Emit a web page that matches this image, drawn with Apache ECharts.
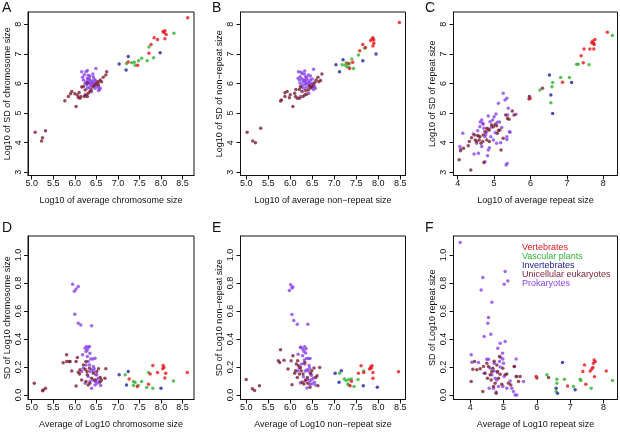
<!DOCTYPE html>
<html><head><meta charset="utf-8">
<script src="https://cdn.jsdelivr.net/npm/echarts@6/dist/echarts.min.js"></script>
<style>html,body{margin:0;padding:0;background:#fff}#c{width:620px;height:432px}</style>
</head><body><div id="c"></div>
<script>
const groups = ["Vertebrates","Vascular plants","Invertebrates","Unicellular eukaryotes","Prokaryotes"];
const groupColors = ["#e8141c","#33b233","#22229a","#7a1f32","#8a44ea"];

const xTicksHalf = [5.0,5.5,6.0,6.5,7.0,7.5,8.0,8.5];
const xTicksInt = [4,5,6,7,8];
const yTicksLog = [3,4,5,6,7,8];
const yTicksSD = [0.0,0.2,0.4,0.6,0.8,1.0];

// Panel A: log10 avg chromosome size vs log10 SD chromosome size
const A_vert = [[8.62,8.22],[8.05,7.76],[8.09,7.78],[8.07,7.72],[8.12,7.66],[8.09,7.51],[7.92,7.49],[7.84,7.55],[7.77,7.32],[7.72,7.02],[7.24,6.73],[7.46,6.62]];
const A_plant = [[8.30,7.70],[7.72,7.23],[7.48,6.77],[7.55,6.85],[7.38,6.72],[7.40,6.62],[7.20,6.68],[7.32,6.70],[7.68,6.77],[7.83,6.87]];
const A_invert = [[7.03,6.66],[7.24,6.91],[7.19,6.46],[7.98,7.04]];
const A_uni = [[5.08,4.35],[5.25,4.17],[5.23,4.06],[5.32,4.40],[5.77,5.42],[5.85,5.56],[5.90,5.65],[5.93,5.73],[6.03,5.22],[6.06,5.61],[6.08,5.53],[6.12,5.50],[6.16,5.88],[6.20,5.90],[6.24,5.78],[6.26,5.61],[6.29,5.56],[6.31,5.67],[6.35,5.73],[6.43,5.90],[6.47,5.95],[6.51,6.01],[6.55,6.06],[6.59,6.12],[6.62,6.06],[6.66,6.21],[6.74,6.40],[6.72,6.29],[6.29,6.01],[6.14,5.56],[6.22,5.56],[6.00,5.65],[6.10,5.70],[6.38,5.80],[6.55,5.95]];
const A_prok = [[6.29,6.44],[6.18,6.21],[6.20,6.12],[6.26,6.06],[6.29,6.17],[6.31,6.03],[6.35,6.12],[6.37,6.01],[6.42,6.06],[6.45,6.14],[6.49,6.51],[6.51,5.92],[6.55,5.87],[6.57,5.80],[6.47,5.84],[6.39,5.92],[6.34,5.87],[6.29,5.84],[6.24,5.62],[6.35,6.25],[6.42,6.32],[6.31,6.28],[6.26,6.40],[6.16,6.40],[6.47,6.01],[6.51,6.06],[6.39,5.72],[6.55,5.76],[6.59,5.84],[6.22,6.30],[6.33,6.18],[6.40,6.00],[6.44,5.96],[6.28,5.95],[6.36,5.98],[6.48,6.10],[6.38,6.08],[6.31,6.10],[6.24,6.00],[6.43,6.22]];

// Panel B: log10 avg non-repeat size vs log10 SD non-repeat size
const B_vert = [[8.48,8.06],[7.88,7.55],[7.86,7.50],[7.90,7.47],[7.83,7.45],[7.90,7.36],[7.88,7.27],[7.65,7.32],[7.71,7.22],[7.58,7.11],[7.42,6.72],[7.31,6.68],[7.35,6.51]];
const B_plant = [[7.69,7.19],[7.55,6.96],[7.40,6.83],[7.44,6.51],[7.29,6.57],[7.35,6.68],[7.18,6.63],[7.27,6.70],[7.33,6.55],[7.25,6.62]];
const B_invert = [[7.04,6.63],[7.20,6.80],[7.12,6.40],[7.65,6.77],[7.95,7.00]];
const B_uni = [[5.02,4.35],[5.15,4.06],[5.21,4.00],[5.33,4.49],[5.78,5.41],[5.80,5.44],[5.88,5.69],[5.93,5.73],[5.88,5.56],[5.98,5.52],[6.06,5.22],[6.10,5.67],[6.12,5.56],[6.16,5.50],[6.21,5.80],[6.23,5.89],[6.27,5.73],[6.29,5.56],[6.33,5.61],[6.37,5.64],[6.41,5.78],[6.44,5.92],[6.50,5.89],[6.53,5.97],[6.56,6.04],[6.59,6.12],[6.65,6.06],[6.69,6.10],[6.72,6.32],[6.63,6.21],[6.35,5.76],[6.21,5.50],[6.13,5.80],[6.00,5.62],[6.46,5.85]];
const B_prok = [[6.19,6.40],[6.25,6.38],[6.33,6.42],[6.32,6.32],[6.23,6.23],[6.27,6.15],[6.31,6.12],[6.35,6.06],[6.38,6.14],[6.42,6.06],[6.46,6.12],[6.50,6.15],[6.53,6.48],[6.44,5.95],[6.48,5.87],[6.53,5.80],[6.57,5.84],[6.38,5.87],[6.33,5.95],[6.27,5.95],[6.21,6.12],[6.35,6.23],[6.41,6.29],[6.31,5.84],[6.42,5.67],[6.23,5.56],[6.18,6.18],[6.46,6.25],[6.50,6.01],[6.27,6.34],[6.36,6.00],[6.40,5.98],[6.29,6.05],[6.45,6.02],[6.37,6.20],[6.22,6.02],[6.33,6.10],[6.48,5.94],[6.55,5.90],[6.26,5.88]];

// Panel C: log10 avg repeat size vs log10 SD repeat size
const C_vert = [[8.11,7.73],[7.77,7.49],[7.71,7.44],[7.68,7.38],[7.73,7.36],[7.75,7.32],[7.63,7.17],[7.74,7.17],[7.47,7.17],[7.39,6.94],[7.45,6.70],[6.88,6.04],[5.99,5.50]];
const C_plant = [[8.25,7.62],[7.27,6.65],[7.31,6.65],[7.61,6.63],[7.07,6.20],[6.83,6.20],[6.61,6.03],[6.59,5.89],[6.26,5.78],[6.56,5.35]];
const C_invert = [[6.52,6.29],[7.13,6.03],[6.56,5.61],[6.61,4.99],[5.97,5.56]];
const C_uni = [[6.33,5.84],[5.96,5.48],[4.04,3.42],[4.36,3.08],[4.08,3.73],[4.16,3.81],[4.29,3.90],[4.32,4.04],[4.38,4.17],[4.48,4.09],[4.52,4.04],[4.55,4.24],[4.59,4.09],[4.61,4.20],[4.64,3.98],[4.70,4.26],[4.72,3.33],[4.75,4.37],[4.80,4.49],[4.84,4.46],[4.87,4.43],[4.93,4.60],[4.98,4.54],[5.03,4.62],[5.07,4.57],[5.12,4.41],[5.16,4.43],[5.19,3.75],[5.25,4.15],[5.32,4.94],[5.37,4.82],[5.41,4.79],[5.50,5.07],[5.55,4.94],[4.80,4.09],[4.69,4.04],[4.46,4.26],[5.09,4.32],[4.87,4.04]];
const C_prok = [[4.14,4.32],[4.06,3.87],[4.08,3.79],[4.57,3.64],[4.75,3.36],[4.82,3.56],[4.87,3.83],[4.43,4.29],[4.52,3.98],[4.66,4.77],[4.69,4.66],[4.61,4.54],[4.72,4.49],[4.75,4.20],[4.80,4.37],[4.84,4.90],[4.89,4.71],[4.91,4.20],[4.96,4.77],[5.00,4.88],[5.03,4.34],[5.05,4.97],[5.09,4.69],[5.12,5.33],[5.21,4.51],[5.25,5.67],[5.30,5.44],[5.35,5.50],[5.39,5.16],[5.37,4.94],[5.42,4.37],[5.35,4.20],[5.35,4.11],[5.33,3.25],[5.36,3.30],[5.44,4.35],[5.60,4.96],[4.45,3.62],[4.84,3.75],[4.66,3.87],[4.98,4.09],[5.07,3.98],[5.18,4.00],[4.58,4.22],[4.62,4.70],[4.70,4.62],[4.93,4.52],[5.15,4.70],[4.77,4.28],[4.55,4.40]];

// Panel D: avg of log10 chromosome size vs SD of log10 chromosome size
const D_vert = [[8.61,0.16],[8.05,0.21],[8.07,0.195],[8.04,0.186],[8.11,0.155],[8.09,0.12],[7.92,0.16],[7.81,0.21],[7.75,0.15],[7.71,0.076],[7.26,0.114],[7.45,0.06]];
const D_plant = [[8.29,0.10],[7.71,0.16],[7.36,0.095],[7.40,0.088],[7.55,0.095],[7.36,0.067],[7.17,0.143],[7.47,0.067],[7.67,0.052],[7.81,0.048]];
const D_invert = [[7.03,0.143],[7.24,0.167],[7.20,0.071],[8.00,0.048]];
const D_uni = [[5.06,0.083],[5.25,0.029],[5.32,0.048],[5.27,0.035],[5.73,0.23],[5.81,0.286],[5.81,0.238],[5.87,0.238],[5.93,0.171],[6.03,0.064],[6.06,0.267],[6.08,0.162],[6.12,0.179],[6.11,0.15],[6.16,0.107],[6.20,0.214],[6.24,0.183],[6.28,0.167],[6.29,0.143],[6.26,0.095],[6.31,0.071],[6.35,0.083],[6.39,0.119],[6.47,0.107],[6.51,0.167],[6.55,0.186],[6.59,0.124],[6.62,0.107],[6.70,0.119],[6.72,0.186],[6.59,0.095],[6.26,0.238],[6.03,0.238],[5.89,0.238],[6.34,0.19],[6.43,0.155]];
const D_prok = [[5.95,0.79],[5.99,0.74],[6.03,0.757],[6.08,0.774],[6.00,0.576],[6.08,0.512],[6.14,0.50],[6.39,0.493],[6.24,0.333],[6.26,0.31],[6.29,0.32],[6.31,0.338],[6.34,0.345],[6.35,0.298],[6.29,0.274],[6.31,0.238],[6.37,0.257],[6.42,0.257],[6.34,0.214],[6.43,0.202],[6.47,0.262],[6.26,0.214],[6.20,0.19],[6.16,0.167],[6.35,0.167],[6.39,0.179],[6.45,0.186],[6.51,0.143],[6.55,0.119],[6.52,0.083],[6.57,0.088],[6.60,0.067],[6.47,0.095],[6.42,0.107],[6.31,0.131],[6.39,0.048],[6.24,0.083],[6.35,0.095],[6.49,0.143],[6.27,0.345],[6.18,0.286],[6.43,0.167],[6.51,0.107],[6.47,0.071]];

// Panel E: avg of log10 non-repeat size vs SD of log10 non-repeat size
const E_vert = [[8.46,0.165],[7.83,0.20],[7.84,0.19],[7.80,0.184],[7.86,0.208],[7.88,0.16],[7.88,0.118],[7.61,0.208],[7.67,0.16],[7.55,0.154],[7.39,0.097],[7.36,0.066]];
const E_plant = [[7.67,0.17],[7.54,0.109],[7.23,0.113],[7.27,0.102],[7.33,0.109],[7.31,0.078],[7.39,0.113],[7.33,0.071],[7.45,0.059],[7.12,0.154]];
const E_invert = [[7.02,0.154],[7.16,0.173],[7.11,0.09],[7.66,0.066],[7.98,0.054]];
const E_uni = [[5.00,0.109],[5.14,0.043],[5.19,0.031],[5.30,0.066],[5.78,0.322],[5.73,0.243],[5.76,0.232],[5.86,0.248],[5.95,0.184],[6.04,0.073],[6.06,0.279],[6.10,0.154],[6.14,0.22],[6.12,0.173],[6.16,0.125],[6.19,0.208],[6.23,0.196],[6.25,0.173],[6.29,0.149],[6.27,0.09],[6.31,0.078],[6.35,0.106],[6.39,0.125],[6.46,0.154],[6.49,0.173],[6.54,0.192],[6.58,0.125],[6.61,0.137],[6.67,0.196],[6.40,0.083],[6.33,0.232],[6.17,0.243],[6.02,0.243],[6.45,0.054],[6.21,0.149],[6.63,0.066]];
const E_prok = [[6.01,0.787],[5.98,0.745],[6.04,0.764],[6.06,0.771],[6.04,0.574],[6.08,0.532],[6.16,0.504],[6.40,0.504],[6.23,0.338],[6.29,0.326],[6.33,0.343],[6.36,0.33],[6.31,0.31],[6.35,0.30],[6.28,0.28],[6.32,0.25],[6.37,0.26],[6.42,0.26],[6.33,0.22],[6.43,0.21],[6.45,0.26],[6.26,0.22],[6.21,0.19],[6.17,0.17],[6.34,0.17],[6.38,0.18],[6.44,0.19],[6.48,0.14],[6.53,0.12],[6.50,0.08],[6.55,0.09],[6.57,0.07],[6.45,0.10],[6.40,0.11],[6.30,0.13],[6.38,0.05],[6.23,0.085],[6.34,0.10],[6.47,0.15],[6.25,0.34],[6.18,0.29],[6.41,0.17],[6.49,0.11],[6.45,0.075]];

// Panel F: avg of log10 repeat size vs SD of log10 repeat size
const F_vert = [[8.08,0.17],[7.75,0.238],[7.72,0.25],[7.70,0.226],[7.68,0.195],[7.73,0.13],[7.43,0.214],[7.38,0.167],[7.60,0.171],[7.65,0.185],[7.47,0.076],[6.92,0.064],[5.98,0.131]];
const F_plant = [[8.27,0.102],[7.32,0.102],[7.30,0.112],[7.63,0.048],[7.10,0.06],[6.83,0.112],[6.60,0.112],[6.60,0.083],[6.58,0.024],[6.30,0.143]];
const F_invert = [[6.77,0.231],[6.58,0.048],[6.62,0.012],[7.15,0.036]];
const F_uni = [[4.03,0.095],[4.08,0.183],[4.13,0.238],[4.20,0.179],[4.30,0.186],[4.38,0.024],[4.45,0.155],[4.52,0.119],[4.55,0.202],[4.60,0.143],[4.63,0.107],[4.65,0.167],[4.68,0.19],[4.70,0.06],[4.75,0.083],[4.78,0.012],[4.80,0.214],[4.82,0.167],[4.85,0.119],[4.90,0.148],[4.95,0.076],[4.98,0.19],[5.05,0.143],[5.15,0.083],[5.22,0.071],[5.32,0.202],[5.38,0.131],[5.50,0.131],[5.45,0.095],[4.40,0.202],[4.50,0.226],[4.88,0.274],[5.10,0.15],[4.72,0.24],[6.00,0.12],[6.35,0.125]];
const F_prok = [[3.70,1.088],[4.38,0.838],[4.33,0.75],[4.65,0.662],[4.55,0.552],[4.53,0.512],[4.62,0.433],[4.42,0.417],[4.83,0.333],[4.90,0.369],[5.05,0.381],[5.02,0.79],[5.05,0.881],[5.13,0.814],[4.97,0.298],[4.03,0.286],[4.05,0.233],[4.50,0.255],[4.55,0.255],[4.72,0.226],[4.88,0.238],[4.92,0.267],[4.98,0.257],[5.00,0.226],[5.38,0.257],[5.33,0.202],[4.65,0.143],[4.75,0.119],[4.80,0.107],[4.57,0.048],[4.70,0.048],[4.85,0.06],[4.98,0.06],[5.10,0.048],[5.25,0.048],[5.30,0.024],[5.35,0.0],[5.40,0.0],[5.40,0.131],[5.60,0.095],[4.72,0.171],[4.82,0.16],[5.02,0.131],[4.25,0.231],[4.42,0.155],[4.60,0.19],[4.90,0.2],[5.20,0.1],[4.78,0.02]];

const FONT = '"Liberation Sans", Arial, Helvetica, sans-serif';
const panels = [
  {letter:'A', lx:2, ly:1, series:[A_vert,A_plant,A_invert,A_uni,A_prok], grid:{left:28,top:12,width:166,height:163.5}, xr:[4.914,8.766], yr:[2.892,8.416], xt:xTicksHalf, yt:yTicksLog, xd:1, yd:0, xn:'Log10 of average chromosome size', yn:'Log10 of SD of chromosome size'},
  {letter:'B', lx:212, ly:1, series:[B_vert,B_plant,B_invert,B_uni,B_prok], grid:{left:240.5,top:12,width:165,height:163.5}, xr:[4.87,8.62], yr:[2.892,8.416], xt:xTicksHalf, yt:yTicksLog, xd:1, yd:0, xn:'Log10 of average non\u2212repeat size', yn:'Log10 of SD of non\u2212repeat size'},
  {letter:'C', lx:425, ly:1, series:[C_vert,C_plant,C_invert,C_uni,C_prok], grid:{left:453.5,top:12,width:164,height:163.5}, xr:[3.885,8.39], yr:[2.892,8.416], xt:xTicksInt, yt:yTicksLog, xd:0, yd:0, xn:'Log10 of average repeat size', yn:'Log10 of SD of repeat size'},
  {letter:'D', lx:2, ly:221, series:[D_vert,D_plant,D_invert,D_uni,D_prok], grid:{left:28,top:236,width:166,height:163.5}, xr:[4.914,8.766], yr:[-0.033,1.135], xt:xTicksHalf, yt:yTicksSD, xd:1, yd:1, xn:'Average of Log10 chromosome size', yn:'SD of Log10 chromosome size'},
  {letter:'E', lx:212, ly:221, series:[E_vert,E_plant,E_invert,E_uni,E_prok], grid:{left:240.5,top:236,width:165,height:163.5}, xr:[4.87,8.62], yr:[-0.033,1.135], xt:xTicksHalf, yt:yTicksSD, xd:1, yd:1, xn:'Average of Log10 non\u2212repeat size', yn:'SD of Log10 non\u2212repeat size'},
  {letter:'F', lx:425, ly:221, series:[F_vert,F_plant,F_invert,F_uni,F_prok], grid:{left:453.5,top:236,width:164,height:163.5}, xr:[3.5,8.42], yr:[-0.033,1.135], xt:xTicksInt, yt:yTicksSD, xd:0, yd:1, xn:'Average of Log10 repeat size', yn:'SD of Log10 repeat size'}
];

const txt = {fontSize:9, color:'#111', fontFamily:FONT};
const grids=[], xAxes=[], yAxes=[], series=[], graphics=[];
panels.forEach((p,i)=>{
  grids.push(Object.assign({show:true, borderColor:'#111', borderWidth:1, backgroundColor:'#fff'}, p.grid));
  xAxes.push({type:'value', gridIndex:i, min:p.xr[0], max:p.xr[1],
    axisLine:{show:true, onZero:false, lineStyle:{color:'#111', width:1}},
    axisTick:{show:true, length:4, customValues:p.xt, lineStyle:{color:'#111'}},
    axisLabel:Object.assign({customValues:p.xt, margin:4, formatter:(v)=>Number(v).toFixed(p.xd)}, txt),
    splitLine:{show:false},
    name:p.xn, nameLocation:'middle', nameGap:21, nameTextStyle:Object.assign({}, txt)});
  yAxes.push({type:'value', gridIndex:i, min:p.yr[0], max:p.yr[1],
    axisLine:{show:true, onZero:false, lineStyle:{color:'#111', width:1}},
    axisTick:{show:true, length:4, customValues:p.yt, lineStyle:{color:'#111'}},
    axisLabel:Object.assign({customValues:p.yt, margin:5, rotate:90, formatter:(v)=>Number(v).toFixed(p.yd)}, txt),
    splitLine:{show:false},
    name:p.yn, nameLocation:'middle', nameGap:16, nameTextStyle:Object.assign({}, txt)});
  [4,3,2,1,0].forEach(g=>{
    series.push({type:'scatter', name:groups[g], xAxisIndex:i, yAxisIndex:i, data:p.series[g],
      symbol:'circle', symbolSize:3.5, itemStyle:{color:groupColors[g]}, silent:true});
  });
  graphics.push({type:'text', left:p.lx, top:p.ly, style:{text:p.letter, fontSize:14, fill:'#111', fontFamily:FONT}});
});

const chart = echarts.init(document.getElementById('c'), null, {renderer:'canvas'});
chart.setOption({
  animation:false,
  backgroundColor:'#fff',
  grid:grids, xAxis:xAxes, yAxis:yAxes, series:series, graphic:graphics,
  legend:{left:517, top:243.5, orient:'vertical', itemWidth:0, itemHeight:0, itemGap:0, padding:0,
    selectedMode:false, icon:'circle',
    textStyle:{fontSize:9, lineHeight:7.7, fontFamily:FONT},
    data:groups.map((g,k)=>({name:g, textStyle:{color:groupColors[k]}}))}
});
</script>
</body></html>
